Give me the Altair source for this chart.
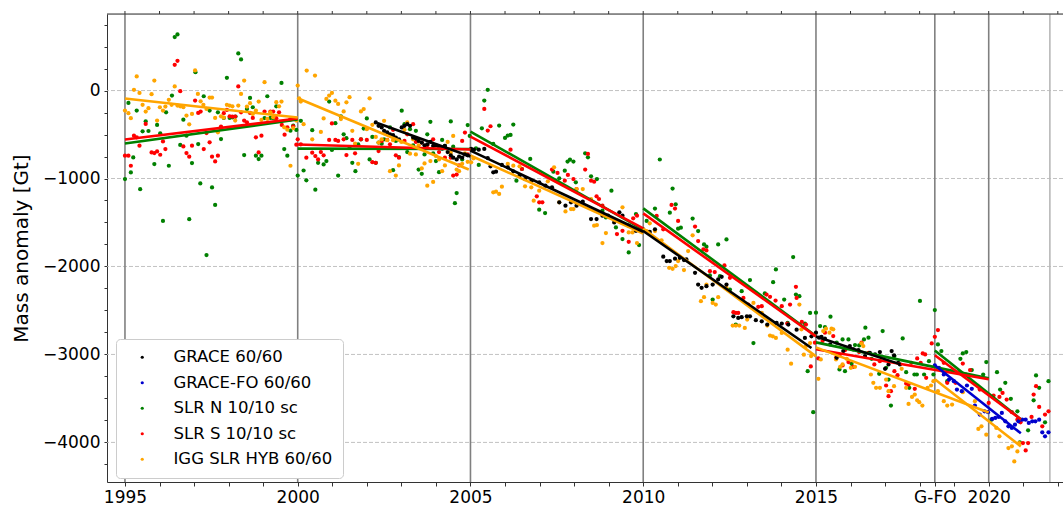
import altair as alt
import pandas as pd

SERIES = ["GRACE 60/60", "GRACE-FO 60/60", "SLR N 10/10 sc", "SLR S 10/10 sc", "IGG SLR HYB 60/60"]
COLORS = ["#000000", "#0000cd", "#008000", "#ff0000", "#ffa500"]

# ---- scatter data (decimal year, mass anomaly in Gt) ----
grace = [
    (2002.26, -363), (2002.34, -401), (2002.43, -420), (2002.50, -458), (2002.59, -477), (2002.67, -497),
    (2002.76, -508), (2002.84, -535), (2002.93, -554), (2003.01, -420), (2003.09, -401), (2003.17, -382),
    (2003.25, -401), (2003.34, -535), (2003.42, -546), (2003.50, -573), (2003.59, -592), (2003.67, -623),
    (2003.75, -611), (2003.84, -584), (2003.92, -630), (2004.00, -623), (2004.09, -638), (2004.18, -661),
    (2004.26, -630), (2004.34, -699), (2004.43, -737), (2004.50, -764), (2004.60, -783), (2004.67, -752),
    (2004.76, -764), (2004.84, -726), (2004.92, -737),
    (2005.02, -664), (2005.10, -672), (2005.24, -672), (2005.40, -664), (2005.50, -767), (2005.58, -861),
    (2005.66, -930), (2005.74, -922), (2005.91, -846), (2006.08, -873), (2006.24, -918), (2006.42, -968),
    (2006.58, -1006), (2006.76, -1032), (2006.99, -1044), (2007.17, -1082), (2007.36, -1100), (2007.57, -1271),
    (2007.75, -1309), (2007.91, -1271), (2008.07, -1309), (2008.25, -1264), (2008.49, -1461), (2008.65, -1461),
    (2008.82, -1423), (2008.98, -1423), (2009.16, -1499), (2009.31, -1385), (2009.40, -1423), (2009.58, -1537),
    (2009.79, -1594),
    (2010.00, -1578), (2010.19, -1608), (2010.34, -1578), (2010.58, -1889), (2010.68, -1939), (2010.77, -1939),
    (2010.92, -1912), (2011.06, -1901), (2011.18, -1927), (2011.25, -1920), (2011.50, -2072), (2011.59, -2205),
    (2011.69, -2243), (2011.83, -2224), (2012.01, -2205), (2012.17, -2148), (2012.27, -2117), (2012.41, -2205),
    (2012.61, -2566), (2012.75, -2585), (2012.85, -2577), (2013.00, -2566), (2013.09, -2566), (2013.26, -2611),
    (2013.43, -2623), (2013.59, -2661), (2013.86, -2642), (2014.01, -2649), (2014.20, -2661), (2014.44, -2718),
    (2014.68, -2813), (2014.87, -2794),
    (2015.00, -2753), (2015.09, -2810), (2015.16, -2799), (2015.26, -2821), (2015.41, -2886), (2015.60, -3038),
    (2015.79, -2962), (2015.98, -2905), (2016.08, -2943), (2016.23, -2951), (2016.42, -3019), (2016.56, -2981),
    (2016.71, -3000), (2016.85, -2973), (2017.00, -3163), (2017.10, -3114), (2017.19, -2962), (2017.26, -3011),
    (2017.38, -3095), (2017.43, -3114),
]

gfo = [
    (2018.44, -3125), (2018.56, -3152), (2018.70, -3228), (2018.85, -3285), (2018.99, -3304), (2019.08, -3399),
    (2019.22, -3418), (2019.37, -3353), (2019.51, -3391), (2019.60, -3581), (2019.74, -3684), (2019.88, -3646),
    (2019.98, -3657), (2020.10, -3733), (2020.19, -3722), (2020.29, -3711), (2020.38, -3665), (2020.48, -3760),
    (2020.57, -3817), (2020.67, -3836), (2020.76, -3798), (2020.86, -3760), (2020.97, -3741), (2021.07, -3741),
    (2021.16, -3779), (2021.26, -3760), (2021.35, -3760), (2021.46, -3741), (2021.55, -3885), (2021.63, -3931),
    (2021.73, -3885),
]

slrn = [
    (1995.00, -1007), (1995.10, -141), (1995.17, -931), (1995.24, -760), (1995.34, -228), (1995.44, -1121),
    (1995.51, -464), (1995.60, -350), (1995.68, -460), (1995.85, -836), (1995.93, -391), (1996.02, -486),
    (1996.10, -1482), (1996.19, -247), (1996.27, -855), (1996.36, -57), (1996.44, 608), (1996.52, 638),
    (1996.60, -619), (1996.69, -331), (1996.78, -513), (1996.86, -1463), (1996.94, -825), (1997.04, 209),
    (1997.12, -608), (1997.18, -1056), (1997.28, -65), (1997.36, -1870), (1997.45, -228), (1997.52, -1102),
    (1997.61, -1300), (1997.69, -247), (1997.78, -551), (1997.86, -312), (1997.95, 144), (1998.03, -312),
    (1998.11, -304), (1998.20, -296), (1998.28, 422), (1998.36, 353), (1998.45, -733), (1998.53, -209),
    (1998.62, -84), (1998.70, -190), (1998.79, -741), (1998.87, -779), (1998.95, -741), (1999.04, -315),
    (1999.12, -65), (1999.21, -312), (1999.29, -315), (1999.38, -179), (1999.53, 87), (1999.61, -665),
    (1999.70, -741), (1999.79, -456), (1999.87, -399), (1999.96, -448),
    (2000.00, -966), (2000.09, -344), (2000.17, -909), (2000.25, -1020), (2000.42, -451), (2000.51, -1127),
    (2000.59, -821), (2000.75, -840), (2000.83, -802), (2000.91, -126), (2000.99, -676), (2001.09, -371),
    (2001.17, -966), (2001.25, -294), (2001.33, -497), (2001.41, -542), (2001.50, -642), (2001.58, -821),
    (2001.67, -917), (2001.75, -611), (2001.83, -554), (2001.91, -432), (2002.00, -317), (2002.08, -783),
    (2002.16, -527), (2002.26, -821), (2002.34, -592), (2002.43, -604), (2002.50, -554), (2002.67, -420),
    (2002.76, -905), (2002.84, -573), (2002.93, -756), (2003.01, -229), (2003.09, -382), (2003.17, -699),
    (2003.25, -439), (2003.34, -623), (2003.42, -458), (2003.50, -898), (2003.59, -947), (2003.67, -726),
    (2003.75, -497), (2003.84, -355), (2003.92, -714), (2004.00, -802), (2004.09, -928), (2004.18, -562),
    (2004.26, -630), (2004.43, -351), (2004.50, -638), (2004.55, -1280), (2004.60, -1165), (2004.76, -783),
    (2004.92, -393), (2004.98, -516),
    (2005.16, -657), (2005.24, -846), (2005.33, -429), (2005.40, -114), (2005.50, 8), (2005.66, -607),
    (2005.83, -398), (2006.00, -539), (2006.08, -512), (2006.16, -505), (2006.24, -387), (2006.33, -1025),
    (2006.49, -892), (2006.73, -778), (2006.99, -1355), (2007.16, -1393), (2007.40, -922), (2007.57, -998),
    (2007.73, -911), (2007.81, -808), (2007.88, -786), (2007.98, -808), (2008.05, -1044), (2008.32, -713),
    (2008.40, -759), (2008.49, -975), (2008.66, -1006), (2008.82, -1366), (2008.92, -1442), (2009.08, -1139),
    (2009.21, -1556), (2009.40, -1689), (2009.58, -1841), (2009.79, -1404), (2009.88, -1757),
    (2010.10, -1483), (2010.34, -1342), (2010.48, -784), (2010.77, -1388), (2010.85, -1114), (2010.94, -1293),
    (2011.01, -1570), (2011.09, -1559), (2011.43, -1456), (2011.59, -1597), (2011.76, -1749), (2011.83, -1775),
    (2011.93, -2102), (2012.01, -2376), (2012.17, -1749), (2012.22, -2110), (2012.41, -1692), (2012.51, -2262),
    (2012.68, -2661), (2012.85, -2281), (2013.09, -2155), (2013.19, -2870), (2013.52, -2307), (2013.76, -2178),
    (2013.84, -2034), (2014.08, -2376), (2014.18, -2642), (2014.34, -1893), (2014.42, -2319), (2014.52, -2338),
    (2014.68, -2649), (2014.76, -3190), (2014.83, -2528), (2014.92, -3657),
    (2015.00, -2525), (2015.12, -2677), (2015.26, -2688), (2015.42, -2571), (2015.60, -2867), (2015.68, -3171),
    (2015.77, -2829), (2015.84, -3190), (2015.94, -2829), (2016.03, -3106), (2016.13, -2894), (2016.25, -2897),
    (2016.39, -2829), (2016.43, -2696), (2016.52, -2810), (2016.61, -3049), (2016.83, -3220), (2016.93, -2734),
    (2017.03, -3152), (2017.10, -3285), (2017.17, -3581), (2017.27, -3019), (2017.51, -2818), (2017.61, -3201),
    (2017.70, -3380), (2017.85, -3228), (2017.92, -3228), (2018.01, -2392), (2018.13, -3228), (2018.27, -3076),
    (2018.40, -3228),
    (2018.44, -2495), (2018.53, -2886), (2018.63, -2962), (2018.80, -3304), (2019.18, -3049), (2019.25, -2989),
    (2019.35, -2973), (2019.51, -3178), (2019.84, -3228), (2019.93, -3087), (2020.08, -3741), (2020.24, -3201),
    (2020.33, -3399), (2020.48, -3323), (2020.64, -3505), (2020.83, -3646), (2020.90, -4000), (2021.14, -3863),
    (2021.30, -3521), (2021.37, -3239), (2021.46, -3380), (2021.63, -3771), (2021.73, -3304),
]

slrs = [
    (1995.00, -741), (1995.10, -741), (1995.17, -855), (1995.26, -513), (1995.34, -532), (1995.42, -627),
    (1995.60, -380), (1995.77, -703), (1995.85, -711), (1995.93, -692), (1996.02, -730), (1996.10, -578),
    (1996.17, -665), (1996.44, 293), (1996.52, 338), (1996.60, -8), (1996.69, -635), (1996.78, -711),
    (1996.86, -752), (1996.94, -627), (1997.03, -114), (1997.12, -255), (1997.19, -239), (1997.28, -665),
    (1997.36, -483), (1997.45, -589), (1997.52, -752), (1997.61, -806), (1997.69, -741), (1997.78, -410),
    (1997.86, -258), (1997.95, -220), (1998.03, -293), (1998.11, -296), (1998.19, -296), (1998.28, 46),
    (1998.36, -247), (1998.45, -342), (1998.53, -361), (1998.62, -255), (1998.70, -312), (1998.79, -532),
    (1998.87, -703), (1998.95, -513), (1999.04, -239), (1999.21, -239), (1999.29, -239), (1999.38, -315),
    (1999.46, -247), (1999.54, -391), (1999.62, -502), (1999.70, -418), (1999.78, -331), (1999.87, -407),
    (1999.96, -616),
    (2000.00, -554), (2000.09, -611), (2000.25, -764), (2000.42, -707), (2000.51, -745), (2000.59, -783),
    (2000.67, -699), (2000.75, -737), (2000.91, -562), (2000.99, -374), (2001.09, -562), (2001.17, -573),
    (2001.33, -554), (2001.41, -733), (2001.58, -562), (2001.66, -714), (2001.83, -554), (2002.00, -562),
    (2002.16, -814), (2002.26, -821), (2002.34, -688), (2002.43, -573), (2002.59, -562), (2002.67, -611),
    (2002.76, -447), (2002.84, -737), (2002.93, -764), (2003.09, -573), (2003.17, -497), (2003.34, -382),
    (2003.42, -584), (2003.59, -592), (2003.75, -623), (2003.92, -554), (2004.09, -699), (2004.26, -764),
    (2004.43, -764), (2004.50, -966), (2004.60, -955), (2004.67, -852), (2004.76, -573), (2004.84, -478),
    (2004.92, -726),
    (2005.40, -209), (2005.50, -455), (2005.58, -406), (2006.16, -672), (2006.49, -892), (2006.92, -1203),
    (2006.99, -1271), (2007.08, -1271), (2007.36, -899), (2007.52, -937), (2007.73, -1025), (2007.82, -960),
    (2007.98, -1006), (2008.07, -1120), (2008.32, -899), (2008.40, -721), (2008.49, -1025), (2008.58, -1036),
    (2008.65, -1203), (2008.72, -1233), (2008.82, -1309), (2009.24, -1632), (2009.40, -1594), (2009.58, -1719),
    (2009.71, -1453), (2009.82, -1423),
    (2010.39, -1426), (2010.58, -1578), (2010.82, -1300), (2010.92, -1342), (2011.01, -1483), (2011.50, -1547),
    (2011.59, -1711), (2011.74, -1806), (2011.83, -1817), (2011.93, -2053), (2012.07, -2064), (2012.35, -1988),
    (2012.51, -2129), (2012.61, -2520), (2012.68, -2528), (2012.75, -2528), (2012.90, -2357), (2013.04, -2433),
    (2013.33, -2459), (2013.43, -2452), (2013.57, -2319), (2013.67, -2345), (2013.83, -2387), (2014.01, -2452),
    (2014.17, -2649), (2014.25, -2433), (2014.42, -2231), (2014.44, -2357), (2014.59, -2630), (2014.71, -2661),
    (2014.85, -3136), (2014.97, -2867),
    (2015.07, -3046), (2015.19, -2848), (2015.26, -2753), (2015.50, -2791), (2015.58, -3038), (2015.68, -3011),
    (2015.77, -3125), (2015.84, -2951), (2015.94, -3087), (2016.08, -3141), (2016.25, -2973), (2016.32, -2867),
    (2016.52, -2981), (2016.69, -3114), (2016.85, -3076), (2017.03, -3353), (2017.10, -3475), (2017.17, -3418),
    (2017.27, -3190), (2017.36, -3236), (2017.61, -3331), (2017.68, -3342), (2017.76, -3095), (2017.86, -3391),
    (2017.93, -3045), (2018.03, -3095), (2018.09, -2989), (2018.16, -3000), (2018.19, -3266), (2018.35, -2875),
    (2018.44, -2799), (2018.53, -2723), (2018.70, -3095), (2018.80, -3323), (2019.04, -3323), (2019.25, -3103),
    (2019.35, -3228), (2019.46, -3178), (2019.74, -3399), (2020.00, -3551), (2020.14, -3467), (2020.31, -3483),
    (2020.40, -3437), (2020.52, -3513), (2020.67, -3657), (2020.83, -3741), (2020.92, -3771), (2020.99, -4007),
    (2021.07, -4091), (2021.14, -4007), (2021.24, -3711), (2021.30, -3456), (2021.37, -3361), (2021.46, -3597),
    (2021.55, -3817), (2021.63, -3684), (2021.73, -3646),
]

igg = [
    (1995.00, -228), (1995.10, -258), (1995.17, -315), (1995.26, 8), (1995.34, 160), (1995.42, -27),
    (1995.51, -163), (1995.60, -239), (1995.68, -201), (1995.77, -42), (1995.85, 114), (1995.93, -342),
    (1996.01, -190), (1996.10, -228), (1996.17, -182), (1996.27, -106), (1996.35, -163), (1996.44, 46),
    (1996.52, -171), (1996.60, -179), (1996.69, -190), (1996.78, -285), (1996.86, -384), (1996.94, -266),
    (1997.03, 228), (1997.11, -38), (1997.19, -122), (1997.27, -163), (1997.36, -209), (1997.45, -80),
    (1997.52, -80), (1997.61, -312), (1997.69, -475), (1997.78, -293), (1997.86, -308), (1997.95, -163),
    (1998.03, -171), (1998.11, -179), (1998.19, -342), (1998.28, -171), (1998.36, -38), (1998.45, 114),
    (1998.53, -182), (1998.62, -144), (1998.70, -266), (1998.79, -228), (1998.87, -125), (1998.95, -334),
    (1999.04, 95), (1999.12, -323), (1999.21, -247), (1999.29, -304), (1999.38, -133), (1999.46, -179),
    (1999.53, -125), (1999.61, -418), (1999.70, -445), (1999.79, -855), (1999.87, -426), (1999.96, -342),
    (2000.00, 57), (2000.04, -88), (2000.09, -126), (2000.17, -382), (2000.26, 227), (2000.42, -554),
    (2000.50, 170), (2000.67, -470), (2000.75, -317), (2000.83, -95), (2000.91, -57), (2000.99, -27),
    (2001.09, -115), (2001.17, -153), (2001.25, -325), (2001.33, -237), (2001.41, -134), (2001.50, -76),
    (2001.58, -458), (2001.66, -604), (2001.75, -833), (2001.83, -237), (2001.91, -210), (2002.00, -439),
    (2002.08, -88), (2002.16, -390), (2002.26, -527), (2002.34, -592), (2002.43, -554), (2002.50, -344),
    (2002.59, -565), (2002.67, -917), (2002.76, -565), (2002.84, -966), (2002.93, -852), (2003.00, -584),
    (2003.09, -447), (2003.17, -363), (2003.25, -718), (2003.34, -554), (2003.42, -726), (2003.50, -623),
    (2003.59, -886), (2003.67, -829), (2003.75, -1081), (2003.84, -802), (2003.92, -1039), (2004.00, -745),
    (2004.09, -783), (2004.18, -917), (2004.26, -852), (2004.34, -584), (2004.43, -707), (2004.50, -516),
    (2004.60, -898), (2004.67, -917), (2004.76, -833), (2004.84, -714), (2004.92, -810),
    (2005.02, -816), (2005.09, -770), (2005.66, -1157), (2005.74, -1150), (2005.83, -1176), (2005.91, -1093),
    (2006.08, -835), (2006.24, -854), (2006.42, -861), (2006.58, -1089), (2006.76, -1100), (2006.83, -1252),
    (2006.99, -1138), (2007.24, -1032), (2007.42, -873), (2007.57, -1271), (2007.75, -1374), (2007.91, -1347),
    (2007.98, -1347), (2008.07, -1120), (2008.25, -1120), (2008.49, -1233), (2008.58, -1537), (2008.66, -1529),
    (2008.82, -1734), (2008.92, -1620), (2009.40, -1328), (2009.58, -1613), (2009.69, -1613), (2009.82, -1734),
    (2010.10, -1597), (2010.19, -1509), (2010.34, -1597), (2010.53, -1703), (2010.75, -2015), (2010.85, -2026),
    (2010.94, -1996), (2011.01, -1939), (2011.18, -2041), (2011.30, -1825), (2011.43, -1646), (2011.67, -2395),
    (2011.76, -2349), (2011.83, -2205), (2012.01, -2414), (2012.10, -2433), (2012.17, -2349), (2012.41, -2243),
    (2012.59, -2672), (2012.68, -2672), (2012.78, -2672), (2012.94, -2699), (2013.01, -2604), (2013.19, -2414),
    (2013.43, -2528), (2013.59, -2672), (2013.67, -2786), (2013.75, -2794), (2013.84, -2813), (2014.01, -2756),
    (2014.18, -2946), (2014.28, -3105), (2014.52, -2433), (2014.58, -2715), (2014.65, -3003), (2014.71, -2905),
    (2014.83, -2870), (2014.86, -3019),
    (2015.07, -3277), (2015.14, -3057), (2015.21, -2734), (2015.29, -2707), (2015.39, -2753), (2015.45, -2707),
    (2015.50, -2715), (2015.58, -3057), (2015.70, -3141), (2015.77, -3114), (2015.89, -3049), (2016.01, -3152),
    (2016.13, -3141), (2016.32, -2875), (2016.37, -2905), (2016.59, -3228), (2016.66, -3323), (2016.74, -3380),
    (2016.85, -3380), (2017.03, -3285), (2017.10, -3418), (2017.26, -3361), (2017.48, -3163), (2017.61, -3380),
    (2017.68, -3562), (2017.78, -3483), (2017.86, -3456), (2017.93, -3521), (2017.99, -3543), (2018.08, -3581),
    (2018.23, -3380), (2018.33, -3353), (2018.40, -3304),
    (2018.53, -3418), (2018.70, -3532), (2018.80, -3581), (2018.94, -3570), (2019.25, -3429), (2019.60, -3532),
    (2019.70, -3847), (2019.79, -3817), (2019.93, -3912), (2020.22, -3836), (2020.31, -3931), (2020.57, -4064),
    (2020.67, -4045), (2020.74, -4216), (2020.83, -4102), (2020.88, -4007),
]

# ---- piecewise trend segments: (t_start, v_start, t_end, v_end) ----
trend_grace = [(2002.3, -370, 2005.0, -750), (2005.0, -683, 2010.0, -1605),
               (2010.0, -1597, 2014.87, -2927), (2015.0, -2795, 2017.45, -3113)]
trend_gfo = [(2018.44, -3124, 2020.93, -3897)]
trend_slrn = [(1995.0, -602, 2000.0, -330), (2000.0, -660, 2005.0, -665), (2005.0, -466, 2010.0, -1580),
              (2010.0, -1340, 2015.0, -2790), (2015.0, -2863, 2020.0, -3272), (2018.44, -2954, 2020.93, -3737)]
trend_slrs = [(1995.0, -557, 2000.0, -318), (2000.0, -613, 2005.0, -670), (2005.0, -523, 2010.0, -1568),
              (2010.0, -1397, 2015.0, -2795), (2015.0, -2942, 2020.0, -3283), (2018.44, -3010, 2020.93, -3737)]
trend_igg = [(1995.0, -91, 2000.0, -307), (2000.0, -88, 2004.95, -898), (2005.0, -738, 2010.0, -1625),
             (2010.0, -1568, 2015.0, -3022), (2015.0, -2920, 2020.0, -3660), (2018.44, -3283, 2020.93, -4045)]

vline_years = [1995, 2000, 2005, 2010, 2015, 2018.44, 2020]
light_vline_years = [2021.77]
hgrid_values = [0, -1000, -2000, -3000, -4000]
minor_years = list(range(1995, 2023))
y_tick_values = list(range(-4250, 751, 250))
x_tick_values = minor_years + [2018.44]

# ---- build tables ----
pt_rows = []
for name, pts in [(SERIES[2], slrn), (SERIES[3], slrs), (SERIES[4], igg), (SERIES[0], grace), (SERIES[1], gfo)]:
    for t, v in pts:
        pt_rows.append({"series": name, "t": t, "v": v})
pts_df = pd.DataFrame(pt_rows)

ln_rows = []
seg_id = 0
for name, segs in [(SERIES[2], trend_slrn), (SERIES[3], trend_slrs), (SERIES[4], trend_igg),
                   (SERIES[0], trend_grace), (SERIES[1], trend_gfo)]:
    for t0, v0, t1, v1 in segs:
        ln_rows.append({"series": name, "seg": seg_id, "t": t0, "v": v0})
        ln_rows.append({"series": name, "seg": seg_id, "t": t1, "v": v1})
        seg_id += 1
lines_df = pd.DataFrame(ln_rows)

W, H = 956, 468
xs = alt.Scale(domain=[1994.48, 2022.15], nice=False, zero=False)
ys = alt.Scale(domain=[-4450, 870], nice=False, zero=False)
cs = alt.Scale(domain=SERIES, range=COLORS)

x_axis = alt.Axis(values=x_tick_values, title=None, grid=False, tickSize=4, tickColor="#333333",
                  domainColor="#333333", labelFontSize=17, labelColor="black", labelPadding=3,
                  labelOverlap=False, labelFlush=False,
                  labelExpr="datum.value == 2018.44 ? 'G-FO' : (datum.value % 5 == 0 ? '' + datum.value : '')")
y_axis = alt.Axis(values=y_tick_values, title="Mass anomaly [Gt]", titleFontSize=20, titleFontWeight="normal",
                  titleColor="black", titlePadding=11, grid=False, tickSize=3, tickColor="#333333",
                  domainColor="#333333", labelFontSize=17, labelColor="black", labelPadding=4,
                  labelOverlap=False, labelFlush=False, format="d",
                  labelExpr="datum.value % 1000 == 0 ? datum.label : ''")

X = alt.X("t:Q", scale=xs, axis=x_axis)
Y = alt.Y("v:Q", scale=ys, axis=y_axis)

vrules = alt.Chart(pd.DataFrame({"t": vline_years})).mark_rule(color="#808080", strokeWidth=1.6).encode(x=X)
vrules_light = alt.Chart(pd.DataFrame({"t": light_vline_years})).mark_rule(
    color="#b8b8b8", strokeWidth=1.6).encode(x=X)
hgrid = alt.Chart(pd.DataFrame({"v": hgrid_values})).mark_rule(
    color="#bbbbbb", strokeWidth=0.9, strokeDash=[4, 2]).encode(y=Y)

points = alt.Chart(pts_df).mark_circle(size=18, opacity=1).encode(
    x=X, y=Y,
    color=alt.Color("series:N", scale=cs, legend=alt.Legend(
        title=None, orient="none", legendX=9, legendY=325, fillColor="white", strokeColor="#cccccc",
        cornerRadius=4, padding=10, labelFontSize=16.5, labelColor="black", symbolType="circle",
        symbolSize=10, symbolStrokeWidth=0, rowPadding=8.5, symbolOffset=8, labelOffset=23)),
)

lines = alt.Chart(lines_df).mark_line(strokeWidth=2.6).encode(
    x=X, y=Y, color=alt.Color("series:N", scale=cs, legend=None), detail="seg:N")

top_ticks = alt.Chart(pd.DataFrame({"t": minor_years})).mark_rule(color="#333333").encode(
    x=X, y=alt.value(-3), y2=alt.value(0))
top_spine = alt.Chart(pd.DataFrame({"k": [0]})).mark_rule(color="#333333").encode(
    x=alt.value(0), x2=alt.value(W), y=alt.value(0))

chart = alt.layer(hgrid, vrules, vrules_light, points, lines, top_ticks, top_spine).properties(
    width=W, height=H,
    autosize=alt.AutoSizeParams(type="none"),
    padding={"left": 107, "top": 14, "right": 0, "bottom": 26},
).configure_view(stroke=None).configure(font="DejaVu Sans")

chart.save("out.html", embed_options={"renderer": "svg", "actions": False})
